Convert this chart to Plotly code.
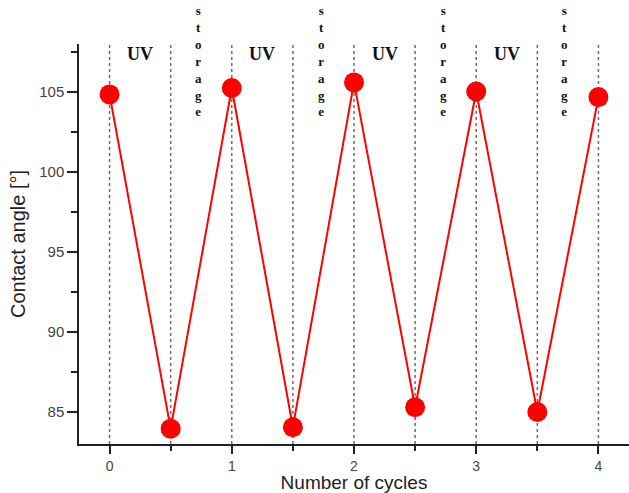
import plotly.graph_objects as go

# Data
cycles = [0, 0.5, 1, 1.5, 2, 2.5, 3, 3.5, 4]
contact_angle = [104.85, 83.96, 105.25, 84.05, 105.6, 85.3, 105.03, 85.0, 104.68]
divider_x = [0, 0.5, 1, 1.5, 2, 2.5, 3, 3.5, 4]
uv_x = [0.25, 1.25, 2.25, 3.25]
storage_x = [0.73, 1.73, 2.73, 3.72]
uv_label = "UV"
storage_label = "storage"
x_ticks = [0, 1, 2, 3, 4]
y_ticks = [85, 90, 95, 100, 105]

fig = go.Figure()

# dotted vertical dividers
for xv in divider_x:
    fig.add_shape(type="line", x0=xv, x1=xv, y0=0, y1=1, xref="x", yref="paper",
                  line=dict(color="#6e6e6e", width=1.5, dash="dot"), layer="below")

fig.add_trace(go.Scatter(
    x=cycles, y=contact_angle, mode="lines+markers",
    line=dict(color="#ff0000", width=2),
    marker=dict(color="#ff0000", size=20, line=dict(width=0)),
    showlegend=False,
))

serif = "Liberation Serif, Times New Roman, serif"
for xv in uv_x:
    fig.add_annotation(x=xv, y=1, xref="x", yref="paper", text="<b>%s</b>" % uv_label,
                       showarrow=False, yanchor="middle", yshift=-10,
                       font=dict(family=serif, size=18, color="#111111"))

stacked = "<b>" + "<br>".join(storage_label) + "</b>"
for xv in storage_x:
    fig.add_annotation(x=xv, y=1, xref="x", yref="paper", text=stacked,
                       showarrow=False, yanchor="middle", yshift=-17,
                       borderpad=0,
                       font=dict(family=serif, size=13, color="#111111"))

sans = "Liberation Sans, Arial, sans-serif"
fig.update_layout(
    width=629, height=493,
    margin=dict(l=79, r=0, t=44, b=49),
    paper_bgcolor="white", plot_bgcolor="white",
    font=dict(family=sans, color="#333333"),
    xaxis=dict(
        range=[-0.25, 4.25], tickvals=x_ticks, showgrid=False, zeroline=False,
        showline=True, linecolor="#222222", linewidth=1.5,
        ticks="outside", ticklen=8, tickwidth=1.5, tickcolor="#222222",
        minor=dict(dtick=0.5, ticks="outside", ticklen=5, tickwidth=1.5, tickcolor="#222222"),
        tickfont=dict(size=14, color="#444444"),
        title=dict(text="Number of cycles", font=dict(size=19, color="#222222"), standoff=0),
    ),
    yaxis=dict(
        range=[83, 108], tickvals=y_ticks, showgrid=False, zeroline=False,
        showline=True, linecolor="#222222", linewidth=1.5,
        ticks="outside", ticklen=10, tickwidth=1.5, tickcolor="#222222",
        minor=dict(tick0=82.5, dtick=5, ticks="outside", ticklen=6, tickwidth=1.5, tickcolor="#222222"),
        tickfont=dict(size=15, color="#444444"),
        title=dict(text="Contact angle [°]", font=dict(size=20, color="#222222"), standoff=8),
    ),
)

fig.write_html("out.html")
